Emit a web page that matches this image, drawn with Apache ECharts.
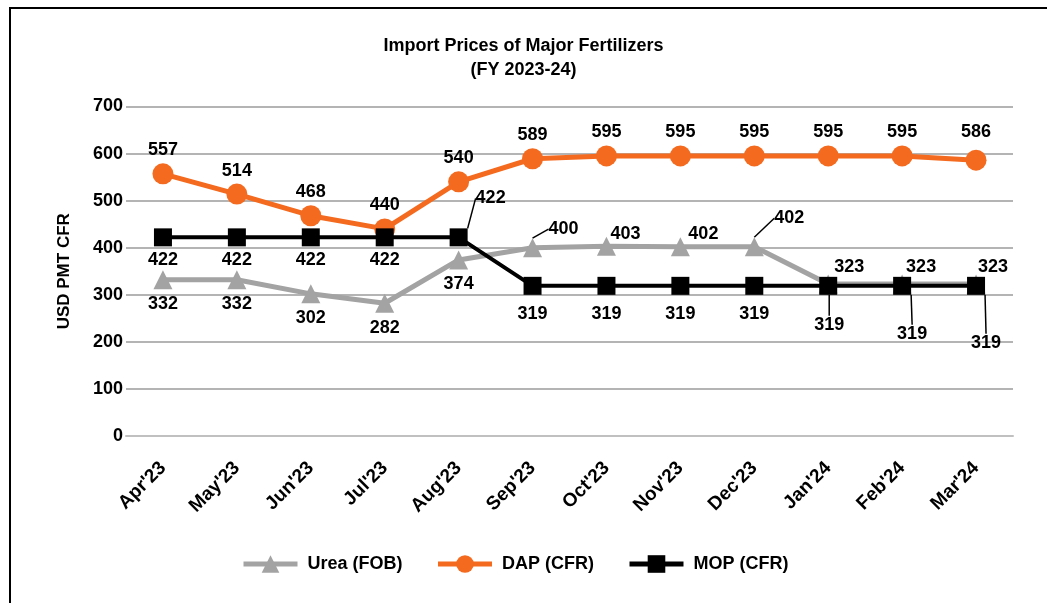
<!DOCTYPE html>
<html>
<head>
<meta charset="utf-8">
<script src="https://cdn.jsdelivr.net/npm/echarts@6/dist/echarts.min.js"></script>
<style>
html, body { margin: 0; padding: 0; background: #fff; }
.wrap { position: relative; width: 1047px; height: 603px; overflow: hidden; }
.frame { position: absolute; left: 9px; top: 7px; width: 1100px; height: 700px;
  border-left: 2px solid #000; border-top: 2px solid #000; }
#chart { position: absolute; left: 0; top: 0; width: 1047px; height: 603px; }
</style>
</head>
<body>
<div class="wrap">
  <div class="frame"></div>
  <div id="chart"></div>
</div>
<script>
// months of FY 2023-24
const months = ["Apr'23", "May'23", "Jun'23", "Jul'23", "Aug'23", "Sep'23",
  "Oct'23", "Nov'23", "Dec'23", "Jan'24", "Feb'24", "Mar'24"];
// USD PMT
const urea = [332, 332, 302, 282, 374, 400, 403, 402, 402, 323, 323, 323];
const dap = [557, 514, 468, 440, 540, 589, 595, 595, 595, 595, 595, 586];
const mop = [422, 422, 422, 422, 422, 319, 319, 319, 319, 319, 319, 319];

const font = "'Liberation Sans', Arial, sans-serif";

// label nudges (dx, dy) and which labels get a leader line
const ureaShift = { 5: [31, -43], 6: [19, -37], 7: [23, -37], 8: [35, -53], 9: [21, -41], 10: [19, -41], 11: [17, -41] };
const ureaLeader = [5, 8];
const mopShift = { 4: [32, -62], 5: [0, 5], 6: [0, 5], 7: [0, 5], 8: [0, 5], 9: [1, 16], 10: [10, 25], 11: [10, 34] };
const mopLeader = [4, 9, 10, 11];
const dapShift = { 11: [0, -5] };

function items(values, leaders) {
  return values.map(function (v, i) {
    if (leaders.indexOf(i) >= 0) {
      return { value: v, labelLine: { show: true, lineStyle: { color: '#000', width: 1.5 } } };
    }
    return v;
  });
}

function shifter(map) {
  return function (params) {
    const s = map[params.dataIndex];
    return s ? { dx: s[0], dy: s[1] } : {};
  };
}

const labelStyle = { show: true, color: '#000', fontFamily: font, fontWeight: 'bold', fontSize: 18 };

const chart = echarts.init(document.getElementById('chart'));
const option = {
  animation: false,
  textStyle: { fontFamily: font },
  title: {
    text: 'Import Prices of Major Fertilizers\n(FY 2023-24)',
    left: 'center',
    top: 29,
    textStyle: { color: '#000', fontFamily: font, fontWeight: 'bold', fontSize: 18, lineHeight: 24 }
  },
  legend: {
    left: 241,
    top: 555,
    padding: 0,
    itemGap: 33,
    itemWidth: 54,
    itemHeight: 22,
    lineStyle: { width: 5 },
    textStyle: { color: '#000', fontFamily: font, fontWeight: 'bold', fontSize: 18, padding: [0, 0, 0, 5] },
    data: ['Urea (FOB)', 'DAP (CFR)', 'MOP (CFR)']
  },
  grid: { left: 126, right: 34, top: 106.5, bottom: 167, containLabel: false, outerBoundsMode: 'none' },
  xAxis: {
    type: 'category',
    data: months,
    boundaryGap: true,
    axisLine: { show: true, lineStyle: { color: '#c0c0c0', width: 2 } },
    axisTick: { show: false },
    axisLabel: { rotate: 45, margin: 29, color: '#000', fontFamily: font, fontWeight: 'bold', fontSize: 19 }
  },
  yAxis: {
    type: 'value',
    min: 0,
    max: 700,
    interval: 100,
    name: 'USD PMT CFR',
    nameLocation: 'middle',
    nameGap: 53,
    nameTextStyle: { color: '#000', fontFamily: font, fontWeight: 'bold', fontSize: 17 },
    axisLine: { show: false },
    axisTick: { show: false },
    axisLabel: { margin: 3, color: '#000', fontFamily: font, fontWeight: 'bold', fontSize: 18 },
    splitLine: { lineStyle: { color: '#b4b4b4', width: 2 } }
  },
  series: [
    {
      name: 'Urea (FOB)',
      type: 'line',
      data: items(urea, ureaLeader),
      symbol: 'triangle',
      symbolSize: 19,
      itemStyle: { color: '#a3a3a3' },
      lineStyle: { color: '#a3a3a3', width: 5 },
      label: Object.assign({ position: 'bottom', distance: 6 }, labelStyle),
      labelLayout: shifter(ureaShift),
      z: 2
    },
    {
      name: 'DAP (CFR)',
      type: 'line',
      data: dap,
      symbol: 'circle',
      symbolSize: 21,
      itemStyle: { color: '#f46a1f' },
      lineStyle: { color: '#f46a1f', width: 5 },
      label: Object.assign({ position: 'top', distance: 4 }, labelStyle),
      labelLayout: shifter(dapShift),
      z: 3
    },
    {
      name: 'MOP (CFR)',
      type: 'line',
      data: items(mop, mopLeader),
      symbol: 'rect',
      symbolSize: 18,
      itemStyle: { color: '#000' },
      lineStyle: { color: '#000', width: 4 },
      label: Object.assign({ position: 'bottom', distance: 5 }, labelStyle),
      labelLayout: shifter(mopShift),
      z: 4
    }
  ]
};
chart.setOption(option);
</script>
</body>
</html>
